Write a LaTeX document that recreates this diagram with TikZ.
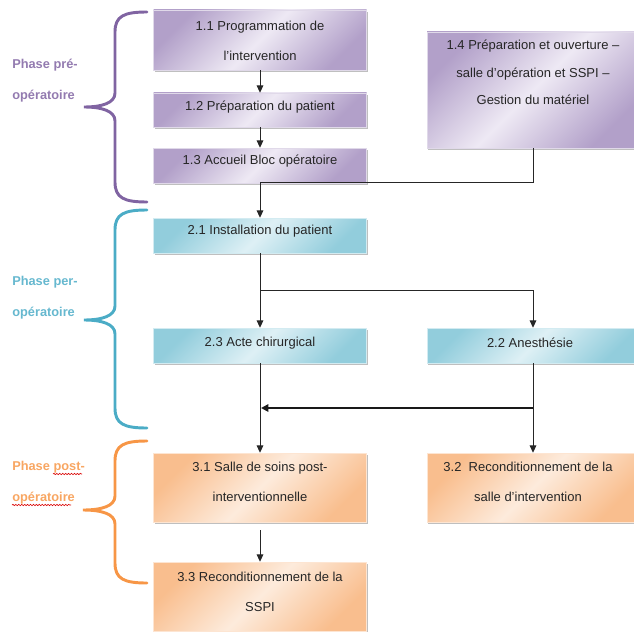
\documentclass[tikz,border=0pt]{standalone}
\usepackage{fontspec}
\setmainfont{Liberation Sans}
\usetikzlibrary{arrows.meta,shadows,decorations.pathmorphing}
\definecolor{pdark}{RGB}{178,160,201}
\definecolor{plight}{RGB}{238,233,244}
\definecolor{bdark}{RGB}{146,205,220}
\definecolor{blight}{RGB}{222,240,245}
\definecolor{odark}{RGB}{249,190,142}
\definecolor{olight}{RGB}{253,235,220}
\definecolor{pbrace}{RGB}{128,100,162}
\definecolor{bbrace}{RGB}{75,172,198}
\definecolor{obrace}{RGB}{247,150,70}
\tikzset{
  boxbase/.style={rectangle, inner sep=0pt, line width=0.4pt,
    drop shadow={shadow xshift=1.1pt, shadow yshift=-1.3pt, fill=black, opacity=0.25}},
  pbox/.style={boxbase, draw=white!60!pdark, top color=pdark, bottom color=pdark, middle color=plight, shading angle=45},
  bbox/.style={boxbase, draw=white!60!bdark, top color=bdark, bottom color=bdark, middle color=blight, shading angle=45},
  obox/.style={boxbase, draw=white!60!odark, top color=odark, bottom color=odark, middle color=olight, shading angle=45},
  leftcol/.style={minimum width=159.75pt},
  rightcol/.style={minimum width=159pt},
  txt/.style={inner sep=0pt, align=center, font=\fontsize{9.75}{22.5}\selectfont, text=black!85},
  phase/.style={inner sep=0pt, align=left, anchor=west, font=\fontsize{9.6}{23.25}\selectfont\bfseries},
  brace/.style={line width=2.2pt, line cap=round},
  arr/.style={line width=0.75pt, draw=black!85, -{Triangle[width=5pt,length=5.5pt]}},
  conn/.style={line width=0.75pt, draw=black!85},
  thickarr/.style={line width=1.5pt, draw=black!90, -{Triangle[width=5.5pt,length=5.5pt]}},
  squig/.style={red!85!black, line width=0.45pt, decorate, decoration={snake, amplitude=0.5pt, segment length=2.2pt}}
}
\begin{document}
\begin{tikzpicture}[x=0.75pt,y=-0.75pt]
\useasboundingbox (0,0) rectangle (634,631);
% boxes
\node[pbox, leftcol, minimum height=45pt] (n11) at (260,40) {};
\node[pbox, leftcol, minimum height=25.5pt] (n12) at (260,110) {};
\node[pbox, leftcol, minimum height=26.25pt] (n13) at (260,165.5) {};
\node[pbox, rightcol, minimum height=87pt] (n14) at (533,90) {};
\node[bbox, leftcol, minimum height=26.25pt] (n21) at (260,235.5) {};
\node[bbox, leftcol, minimum height=26.25pt] (n23) at (260,345.5) {};
\node[bbox, rightcol, minimum height=26.25pt] (n22) at (533,345.5) {};
\node[obox, leftcol, minimum height=51.75pt] (n31) at (260,487.5) {};
\node[obox, rightcol, minimum height=51.75pt] (n32) at (533,487.5) {};
\node[obox, leftcol, minimum height=51.75pt] (n33) at (260,596.5) {};
% texts
\node[txt] (t11) at (260,41) {1.1 Programmation de\\l'intervention};
\node[txt] (t12) at (260,107) {1.2 Préparation du patient};
\node[txt] (t13) at (260,161) {1.3 Accueil Bloc opératoire};
\node[txt, font=\fontsize{9.75}{20.6}\selectfont] (t14) at (533,72.5) {1.4 Préparation et ouverture --\\salle d'opération et SSPI --\\Gestion du matériel};
\node[txt] (t21) at (260,231) {2.1 Installation du patient};
\node[txt] (t23) at (260,343) {2.3 Acte chirurgical};
\node[txt] (t22) at (530,343) {2.2 Anesthésie};
\node[txt] (t31) at (260,482) {3.1 Salle de soins post-\\interventionnelle};
\node[txt] (t32) at (528,482) {3.2\ \ Reconditionnement de la\\salle d'intervention};
\node[txt] (t33) at (260,592) {3.3 Reconditionnement de la\\SSPI};
% phase labels
\node[phase, text=pbrace!85!white] (l1) at (12,81) {Phase pré-\\opératoire};
\node[phase, text=bbrace!85!white] (l2) at (12,297.5) {Phase per-\\opératoire};
\node[phase, text=obrace!85!white] (l3) at (12,482.5) {Phase post-\\opératoire};
\draw[squig] (53,474) -- (82,474);
\draw[squig] (12,505) -- (71,505);
% braces
\draw[brace, pbrace] (147,12) .. controls (124,12) and (115,16) .. (115,32) -- (115,93)
  .. controls (115,103) and (102,107) .. (84,107) .. controls (102,107) and (115,111) .. (115,121)
  -- (115,182) .. controls (115,198) and (124,202) .. (147,202);
\draw[brace, bbrace] (147,210) .. controls (124,210) and (115,214) .. (115,230) -- (115,306)
  .. controls (115,316) and (102,320) .. (84,320) .. controls (102,320) and (115,324) .. (115,334)
  -- (115,408) .. controls (115,424) and (124,428) .. (147,428);
\draw[brace, obrace] (147,441) .. controls (124,441) and (115,445) .. (115,461) -- (115,496)
  .. controls (115,506) and (102,510) .. (83,510) .. controls (102,510) and (115,514) .. (115,524)
  -- (115,563) .. controls (115,579) and (124,583) .. (147,583);
% connectors
\coordinate (b1) at (260,290);
\coordinate (b2) at (533,408);
\coordinate (b3) at (261,408);
\coordinate (b4) at (260,530);
\draw[arr] (n11) -- (n12);
\draw[arr] (n12) -- (n13);
\draw[arr] (n13) -- (n21);
\draw[conn] (n14.south) |- ([yshift=0.75pt]n13.south);
\draw[arr] (n21) -- (n23);
\draw[arr] (b1) -| (n22.north);
\draw[arr] (n23) -- (n31);
\draw[arr] (n22) -- (n32);
\draw[thickarr] (b2) -- (b3);
\draw[arr] (b4) -- (n33.north);
\end{tikzpicture}
\end{document}
